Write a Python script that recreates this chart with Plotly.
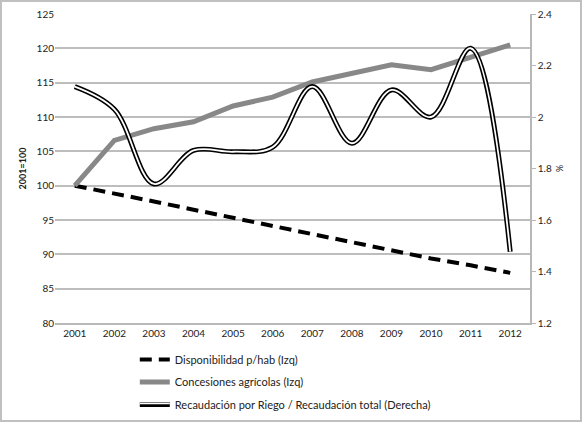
import plotly.graph_objects as go

years = ["2001", "2002", "2003", "2004", "2005", "2006", "2007", "2008", "2009", "2010", "2011", "2012"]
disponibilidad = [100, 98.9, 97.7, 96.5, 95.3, 94.1, 93.0, 91.8, 90.6, 89.4, 88.4, 87.3]
concesiones = [100, 106.6, 108.3, 109.3, 111.6, 112.9, 115.1, 116.4, 117.6, 116.9, 118.7, 120.5]
recaudacion = [2.118, 2.03, 1.74, 1.87, 1.865, 1.883, 2.118, 1.898, 2.105, 2.0, 2.267, 1.477]

left_ticks = [80, 85, 90, 95, 100, 105, 110, 115, 120, 125]
right_ticks = [1.2, 1.4, 1.6, 1.8, 2.0, 2.2, 2.4]
right_labels = ["1.2", "1.4", "1.6", "1.8", "2", "2.2", "2.4"]

FONT = "Lato"
LEG_X = 0.168
LEG_Y = -0.071

fig = go.Figure()
fig.add_trace(go.Scatter(x=years, y=disponibilidad, mode="lines", name="Disponibilidad p/hab (Izq)",
                         legendgroup="a",
                         line=dict(color="black", width=4, dash="12px,7px")))
fig.add_trace(go.Scatter(x=years, y=concesiones, mode="lines", name="Concesiones agrícolas (Izq)",
                         legendgroup="b",
                         line=dict(color="#888888", width=5)))
fig.add_trace(go.Scatter(x=years, y=recaudacion, mode="lines", yaxis="y2", legendgroup="c",
                         name="Recaudación por Riego / Recaudación total (Derecha)",
                         line=dict(color="black", width=5, shape="spline", smoothing=1)))
fig.add_trace(go.Scatter(x=years, y=recaudacion, mode="lines", yaxis="y2", legend="legend2",
                         hoverinfo="skip", name=" ",
                         line=dict(color="white", width=1.8, shape="spline", smoothing=1)))

fig.update_layout(
    width=582, height=422,
    margin=dict(l=55, r=52, t=14, b=99, autoexpand=False),
    paper_bgcolor="white", plot_bgcolor="white",
    font=dict(family=FONT, size=10, color="#222"),
    xaxis=dict(type="category", range=[-0.5, 11.5], showgrid=False, showline=True,
               linecolor="#b8b8b8", linewidth=1.5, ticks="", tickfont=dict(size=10),
               automargin=False),
    yaxis=dict(range=[80, 125], tickvals=left_ticks, showgrid=True, gridcolor="#bdbdbd",
               gridwidth=1.5, zeroline=False, showline=False, ticks="", automargin=False,
               title=dict(text="<b>2001=100</b>", font=dict(size=9), standoff=8)),
    yaxis2=dict(range=[1.2, 2.4], tickvals=right_ticks, ticktext=right_labels, overlaying="y",
                side="right", showgrid=False, zeroline=False, showline=True, linecolor="#b8b8b8",
                linewidth=1.5, ticks="outside", ticklen=4, tickcolor="#b8b8b8", automargin=False,
                title=dict(text="%", font=dict(size=9), standoff=6)),
    legend=dict(x=LEG_X, y=LEG_Y, xanchor="left", yanchor="top", font=dict(size=11),
                bgcolor="rgba(0,0,0,0)", tracegroupgap=3.5, traceorder="grouped"),
    legend2=dict(x=LEG_X, y=LEG_Y - 44 / 309, xanchor="left", yanchor="top",
                 font=dict(size=11, color="rgba(0,0,0,0)"), bgcolor="rgba(0,0,0,0)"),
    showlegend=True,
)

# outer frame
fig.add_shape(type="rect", xref="paper", yref="paper",
              x0=(1 - 55) / 475, x1=(581 - 55) / 475, y0=(323 - 421) / 309, y1=(323 - 1) / 309,
              line=dict(color="#c0c0c0", width=2), fillcolor="rgba(0,0,0,0)")

fig.write_html("out.html", config={"displayModeBar": False},
               post_script="document.body.style.margin='0';document.body.style.overflow='hidden';")
